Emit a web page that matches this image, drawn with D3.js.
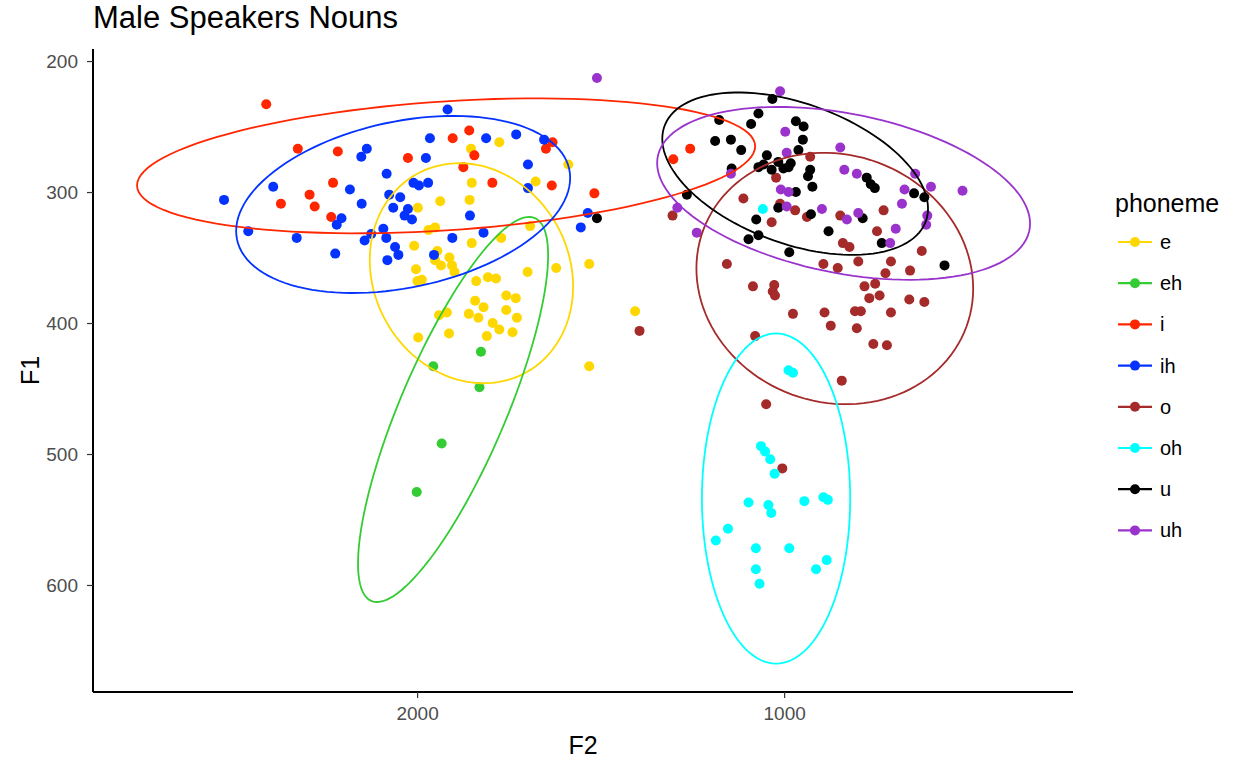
<!DOCTYPE html>
<html>
<head>
<meta charset="utf-8">
<script src="https://cdn.jsdelivr.net/npm/d3@7"></script>
<style>
  html, body { margin: 0; padding: 0; background: #ffffff; }
  svg { display: block; font-family: "Liberation Sans", Arial, Helvetica, sans-serif; }
</style>
</head>
<body>
<svg id="chart" width="1238" height="761"></svg>
<script>
// Vowel formant measurements (F2, F1 in Hz) for male speakers, nouns only.
const phonemes = ["e", "eh", "i", "ih", "o", "oh", "u", "uh"];
const phonemeColors = ["#FFD700", "#33CC33", "#FF2600", "#0433FF", "#A52A2A", "#00FFFF", "#000000", "#9933CC"];

const pts_e = [[1851,293],[1857,306],[1937,307],[1998,312],[1677,292],[1951,327],[1969,329],[1851,339],
  [1771,335],[1692,326],[2008,341],[1945,345],[1951,352],[1935,356],[1912,350],[1905,356],[1898,361],
  [2003,359],[1999,368],[1987,367],[1839,368],[1807,365],[1785,366],[1699,361],[1621,358],[1757,379],
  [1731,381],[1842,383],[1819,388],[1757,390],[1859,393],[1833,396],[1728,396],[1940,394],[1919,392],
  [1794,400],[1776,405],[1810,410],[1740,407],[1913,408],[1997,411],[1776,262],[1853,267],[1588,279],
  [1531,355],[1406,391],[1531,433]];
const pts_eh = [[1826,422],[1956,433],[1830,449],[1933,492],[2001,529]];
const pts_i = [[2411,233],[2325,267],[2216,269],[2025,274],[2229,293],[2293,302],[2371,309],[2279,311],
  [2234,319],[1874,281],[1844,272],[1795,293],[1633,295],[1649,267],[1631,262],[1858,253],[1903,259],
  [1517,301],[1256,267],[1302,275]];
const pts_ih = [[2526,306],[2460,330],[2392,296],[2328,335],[2137,267],[2152,273],[2083,286],[2183,298],
  [2151,309],[2206,320],[2219,325],[2223,347],[2076,302],[2046,304],[2065,312],[2025,313],[2034,318],
  [2014,321],[2092,328],[2125,332],[2143,337],[2084,335],[2060,342],[2051,348],[2081,352],[1976,274],
  [2010,293],[1995,295],[1970,293],[1856,318],[1698,279],[1698,297],[1904,335],[1819,331],[1954,348],
  [1917,237],[1965,259],[1812,259],[1730,256],[1654,260],[1535,316],[1554,327]];
const pts_o = [[929,273],[1022,289],[1111,305],[1304,318],[1011,309],[970,314],[938,319],[1034,323],
  [847,318],[840,339],[822,342],[893,355],[854,358],[1156,355],[798,353],[729,314],[747,330],[625,345],
  [709,353],[724,362],[657,360],[781,372],[752,370],[768,381],[740,379],[659,382],[618,384],[807,391],
  [791,391],[709,392],[802,404],[1085,372],[1027,371],[1031,376],[1025,379],[976,393],[890,392],
  [873,402],[757,416],[720,417],[1079,410],[843,444],[1049,462],[1394,406],[1005,511]];
const pts_oh = [[1058,313],[988,436],[976,438],[1063,494],[1052,498],[1038,504],[1026,515],[1097,537],
  [1043,539],[1035,545],[945,536],[893,533],[881,535],[1153,557],[1186,566],[1077,572],[986,572],
  [1077,588],[1067,599],[913,588],[884,581]];
const pts_u = [[1032,229],[1070,240],[1090,248],[1177,245],[1188,261],[1145,260],[1117,268],[968,246],
  [947,250],[949,260],[961,268],[1047,272],[1070,281],[1056,279],[1034,283],[1016,277],[1002,282],
  [988,281],[982,278],[1143,282],[929,283],[935,288],[923,296],[968,300],[1265,302],[1016,312],
  [927,317],[1076,321],[1070,333],[1097,336],[879,330],[986,346],[775,289],[764,294],[753,297],
  [646,301],[618,304],[786,320],[734,339],[563,356],[1510,320]];
const pts_uh = [[1011,223],[1510,213],[997,254],[847,266],[836,283],[802,286],[993,270],[1145,286],
  [1009,298],[988,300],[993,311],[897,313],[829,321],[1291,312],[1238,331],[798,316],[643,286],
  [672,298],[600,296],[514,299],[679,309],[610,318],[613,325],[696,328],[711,339]];
const pointSets = [pts_e, pts_eh, pts_i, pts_ih, pts_o, pts_oh, pts_u, pts_uh];

// 95% ellipse per phoneme: centre, half-extent along each axis, and correlation.
const ellipseF2 = [1852, 1902, 1921, 2038, 862, 1022, 970, 838];
const ellipseF1 = [362, 466, 280, 309.5, 366, 534, 286, 301];
const ellipseRadiusF2 = [277, 259, 842, 455, 377, 202, 362, 508];
const ellipseRadiusF1 = [84, 147, 51.5, 67.6, 96, 126, 62, 66];
const ellipseRho = [-0.12, 0.8, 0.29, 0.3, -0.08, 0.0, -0.43, -0.35];

const xTicks = [2000, 1000];
const yTicks = [200, 300, 400, 500, 600];
const xDomain = [2883, 213];   // F2 runs right-to-left
const yDomain = [190.8, 681.7]; // F1 runs top-to-bottom

const svg = d3.select("#chart");
const panel = { left: 93, right: 1073, top: 49, bottom: 692 };

const x = d3.scaleLinear().domain(xDomain).range([panel.left, panel.right]);
const y = d3.scaleLinear().domain(yDomain).range([panel.top, panel.bottom]);

// Title
svg.append("text")
  .attr("x", panel.left).attr("y", 28)
  .attr("font-size", 31).attr("fill", "#000")
  .text("Male Speakers Nouns");

// Points
const gPts = svg.append("g");
pointSets.forEach((set, i) => {
  gPts.selectAll(null).data(set).enter().append("circle")
    .attr("cx", d => x(d[0]))
    .attr("cy", d => y(d[1]))
    .attr("r", 5)
    .attr("fill", phonemeColors[i]);
});

// Ellipses
const line = d3.line().x(d => x(d[0])).y(d => y(d[1])).curve(d3.curveLinearClosed);
const gEll = svg.append("g").attr("fill", "none").attr("stroke-width", 1.8);
phonemes.forEach((p, i) => {
  const n = 120, r = ellipseRho[i], s = Math.sqrt(1 - r * r);
  const path = d3.range(n).map(k => {
    const t = 2 * Math.PI * k / n;
    return [ellipseF2[i] + ellipseRadiusF2[i] * Math.cos(t),
            ellipseF1[i] + ellipseRadiusF1[i] * (r * Math.cos(t) + s * Math.sin(t))];
  });
  gEll.append("path").attr("d", line(path)).attr("stroke", phonemeColors[i]);
});

// Axes
const xAxis = svg.append("g").attr("transform", `translate(0,${panel.bottom})`)
  .call(d3.axisBottom(x).tickValues(xTicks).tickSize(6).tickPadding(9).tickFormat(d3.format("d")));
const yAxis = svg.append("g").attr("transform", `translate(${panel.left},0)`)
  .call(d3.axisLeft(y).tickValues(yTicks).tickSize(6).tickPadding(9).tickFormat(d3.format("d")));
[xAxis, yAxis].forEach(a => {
  a.select(".domain").attr("stroke", "#000").attr("stroke-width", 2);
  a.selectAll(".tick line").attr("stroke", "#333").attr("stroke-width", 1.2);
  a.selectAll(".tick text").attr("fill", "#4D4D4D").attr("font-size", 19)
    .attr("font-family", "Liberation Sans, Arial, sans-serif");
});
xAxis.select(".domain").attr("d", `M${panel.left},0H${panel.right}`);
yAxis.select(".domain").attr("d", `M0,${panel.top}V${panel.bottom}`);

// Axis titles
svg.append("text").attr("x", (panel.left + panel.right) / 2).attr("y", 754)
  .attr("text-anchor", "middle").attr("font-size", 25).text("F2");
svg.append("text").attr("transform", `translate(39,${(panel.top + panel.bottom) / 2}) rotate(-90)`)
  .attr("text-anchor", "middle").attr("font-size", 25).text("F1");

// Legend
const legend = svg.append("g").attr("transform", "translate(1115,0)");
legend.append("text").attr("x", 0).attr("y", 212).attr("font-size", 25).text("phoneme");
phonemes.forEach((p, i) => {
  const row = legend.append("g").attr("transform", `translate(0,${242 + i * 41.2})`);
  row.append("line").attr("x1", 3).attr("x2", 37).attr("y1", 0).attr("y2", 0)
    .attr("stroke", phonemeColors[i]).attr("stroke-width", 2.2);
  row.append("circle").attr("cx", 20).attr("cy", 0).attr("r", 5).attr("fill", phonemeColors[i]);
  row.append("text").attr("x", 45).attr("y", 7).attr("font-size", 20).text(p);
});
</script>
</body>
</html>
